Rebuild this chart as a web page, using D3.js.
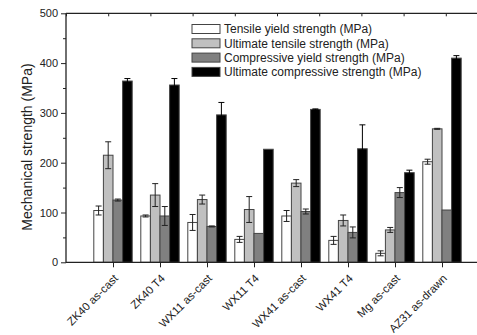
<!DOCTYPE html>
<html><head><meta charset="utf-8">
<script src="https://cdn.jsdelivr.net/npm/d3@7"></script>
<style>html,body{margin:0;padding:0;background:#fff;overflow:hidden}svg{display:block}</style>
</head><body><div id="chart"></div>
<script>
const categories = ["ZK40 as-cast","ZK40 T4","WX11 as-cast","WX11 T4","WX41 as-cast","WX41 T4","Mg as-cast","AZ31 as-drawn"];
const seriesNames = ["Tensile yield strength (MPa)","Ultimate tensile strength (MPa)","Compressive yield strength (MPa)","Ultimate compressive strength (MPa)"];
const tys = [104, 93, 80, 46, 93, 44, 18, 202];
const tysErr = [9, 2, 16, 6, 11, 8, 5, 5];
const uts = [215, 135, 126, 106, 159, 84, 65, 268];
const utsErr = [27, 23, 9, 26, 7, 11, 5, 1];
const cys = [125, 93, 72, 58, 102, 60, 140, 105];
const cysErr = [2, 19, 1, 0, 5, 11, 10, 0];
const ucs = [364, 356, 296, 227, 307, 228, 180, 410];
const ucsErr = [5, 13, 25, 0, 1, 48, 5, 5];
const yTicks = [0, 100, 200, 300, 400, 500];
const yLabel = "Mechanical strength (MPa)";
const fills = ["#ffffff", "#c0c0c0", "#808080", "#000000"];

(function () {
const W = 477, H = 335;
const mLeft = 66, mTop = 13.3, mBottom = 262.3;
const font = "Arial, 'Liberation Sans', sans-serif";
const svg = d3.select("#chart").append("svg").attr("width", W).attr("height", H);

const y = d3.scaleLinear().domain([0, 500]).range([mBottom, mTop]);
const x = d3.scaleLinear().domain([0, 9]).range([mLeft, 489]);
const xTop = d3.scaleLinear().domain([0, 10]).range([mLeft, 488]);
const sub = d3.scaleBand().domain(d3.range(4)).range([-19.2, 19.2]).padding(0);

const values = [tys, uts, cys, ucs];
const errs = [tysErr, utsErr, cysErr, ucsErr];

values.forEach((vals, s) => {
  const g = svg.append("g");
  g.selectAll("rect").data(vals).join("rect")
    .attr("x", (d, i) => x(i + 1) + sub(s))
    .attr("y", d => y(d))
    .attr("width", sub.bandwidth())
    .attr("height", d => y(0) - y(d))
    .attr("fill", fills[s])
    .attr("stroke", "#444").attr("stroke-width", 1);
});
values.forEach((vals, s) => {
  const g = svg.append("g").attr("stroke", s === 3 ? "#000" : "#222").attr("stroke-width", 1).attr("fill", "none");
  vals.forEach((v, i) => {
    const e = errs[s][i];
    if (!e) return;
    const cx = x(i + 1) + sub(s) + sub.bandwidth() / 2;
    g.append("line").attr("x1", cx).attr("x2", cx).attr("y1", y(v - e)).attr("y2", y(v + e));
    g.append("line").attr("x1", cx - 3).attr("x2", cx + 3).attr("y1", y(v + e)).attr("y2", y(v + e));
    g.append("line").attr("x1", cx - 3).attr("x2", cx + 3).attr("y1", y(v - e)).attr("y2", y(v - e));
  });
});

const yAxis = d3.axisLeft(y).tickValues(yTicks).tickSize(5).tickPadding(3);
const gy = svg.append("g").attr("transform", `translate(${mLeft},0)`).call(yAxis);
gy.select(".domain").remove();
gy.selectAll("text").attr("font-family", font).attr("font-size", 11).attr("fill", "#222");
gy.selectAll("line").attr("stroke", "#222");
const yMinor = d3.axisLeft(y).tickValues([50,150,250,350,450]).tickSize(3).tickFormat("");
const gym = svg.append("g").attr("transform", `translate(${mLeft},0)`).call(yMinor);
gym.select(".domain").remove();
gym.selectAll("line").attr("stroke", "#222");
svg.append("line").attr("x1", mLeft).attr("x2", mLeft).attr("y1", mTop).attr("y2", mBottom + 0.5).attr("stroke", "#222").attr("stroke-width", 1.3);

const xAxis = d3.axisBottom(x).tickValues(d3.range(1, 9)).tickSize(5).tickFormat("");
const gx = svg.append("g").attr("transform", `translate(0,${mBottom})`).call(xAxis);
gx.select(".domain").remove();
gx.selectAll("line").attr("stroke", "#222");
svg.append("line").attr("x1", mLeft).attr("x2", W).attr("y1", mBottom).attr("y2", mBottom).attr("stroke", "#222").attr("stroke-width", 1.2);
svg.append("g").selectAll("text").data(categories).join("text")
  .attr("transform", (d, i) => `translate(${x(i + 1) + 3},${mBottom + 14}) rotate(-45)`)
  .attr("text-anchor", "end").attr("dy", "0.35em")
  .attr("font-family", font).attr("font-size", 11.3).attr("fill", "#222")
  .text(d => d);

const topAxis = d3.axisBottom(xTop).tickValues(d3.range(0, 11)).tickSize(3).tickFormat("");
const gt = svg.append("g").attr("transform", `translate(0,${mTop})`).call(topAxis);
gt.select(".domain").remove();
gt.selectAll("line").attr("stroke", "#222");
svg.append("line").attr("x1", mLeft).attr("x2", W).attr("y1", mTop).attr("y2", mTop).attr("stroke", "#222").attr("stroke-width", 1.2);

svg.append("text").attr("transform", `translate(32,147) rotate(-90)`)
  .attr("text-anchor", "middle").attr("font-family", font).attr("font-size", 14).attr("fill", "#222")
  .text(yLabel);

const lg = svg.append("g");
seriesNames.forEach((name, i) => {
  const cy = 29 + i * 14.3;
  lg.append("rect").attr("x", 192).attr("y", cy - 4.5).attr("width", 28).attr("height", 9)
    .attr("fill", fills[i]).attr("stroke", "#444");
  lg.append("text").attr("x", 224).attr("y", cy).attr("dy", "0.36em")
    .attr("font-family", font).attr("font-size", 12).attr("fill", "#222").text(name);
});
})();
</script></body></html>
